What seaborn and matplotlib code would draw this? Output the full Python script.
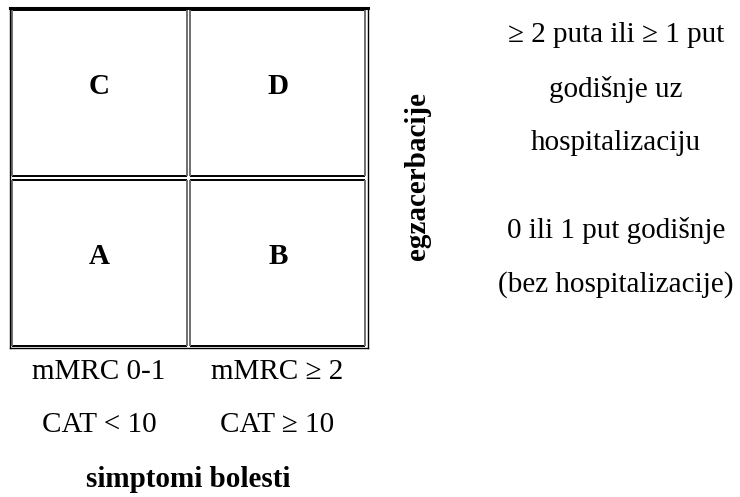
import numpy as np
import pandas as pd
import matplotlib
matplotlib.use("Agg")
import matplotlib.pyplot as plt
from matplotlib.colors import ListedColormap
import seaborn as sns

# ---- content ----
cell_letters = [["C", "D"], ["A", "B"]]
col_label_line1 = ["mMRC 0-1", "mMRC \u2265 2"]
col_label_line2 = ["CAT < 10", "CAT \u2265 10"]
x_title = "simptomi bolesti"
y_title = "egzacerbacije"
upper_row_text = ["\u2265 2 puta ili \u2265 1 put", "godi\u0161nje uz", "hospitalizaciju"]
lower_row_text = ["0 ili 1 put godi\u0161nje", "(bez hospitalizacije)"]

sns.set_style("white")
plt.rcParams["font.family"] = ["Liberation Serif", "DejaVu Serif"]
plt.rcParams["text.color"] = "black"

W, H = 740, 497
fig = plt.figure(figsize=(W / 100, H / 100), dpi=100)
fig.patch.set_facecolor("white")


def fx(x):
    return x / W


def fy(y):
    return 1 - y / H


# table axes in pixel box
L, T, R, B = 9.5, 8.0, 367.5, 348.0
ax = fig.add_axes([fx(L), fy(B), (R - L) / W, (B - T) / H])

grid = pd.DataFrame(np.zeros((2, 2)))
sns.heatmap(grid, ax=ax, cmap=ListedColormap(["white"]), cbar=False,
            annot=np.array(cell_letters), fmt="",
            annot_kws=dict(fontsize=21, fontweight="bold", color="black",
                           family=["Liberation Serif", "DejaVu Serif"]),
            linewidths=0, square=False)
for t in ax.texts:
    x0, y0 = t.get_position()
    t.set_position((x0, y0 - 0.04))

ax.set_xticks([])
ax.set_yticks([])
ax.set_xlim(0, 2)
ax.set_ylim(2, 0)
for s in ax.spines.values():
    s.set_visible(True)
    s.set_color("black")
    s.set_linewidth(1.0)
ax.spines["top"].set_linewidth(2.2)

# inner cell borders (double-line look)
d_out, d_in = 0.014, 0.0095
dy_out, dy_in = 0.012, 0.0105
for i in range(2):
    for j in range(2):
        x_a = j + (d_out if j == 0 else d_in)
        x_b = j + 1 - (d_in if j == 0 else d_out)
        y_a = i + (dy_out if i == 0 else dy_in)
        y_b = i + 1 - (dy_in if i == 0 else dy_out)
        ax.hlines([y_a, y_b], x_a, x_b, colors="black", linewidth=1.4)
        ax.vlines([x_a, x_b], y_a, y_b, colors="#6f6f6f", linewidth=1.4)

fs = 21
txt = dict(color="black")
# column labels under table
col_x = [99, 277]
for cx, t1, t2 in zip(col_x, col_label_line1, col_label_line2):
    fig.text(fx(cx), fy(379), t1, ha="center", va="baseline", fontsize=fs, **txt)
    fig.text(fx(cx), fy(432), t2, ha="center", va="baseline", fontsize=fs, **txt)
fig.text(fx(188), fy(487), x_title, ha="center", va="baseline",
         fontsize=fs, fontweight="bold", **txt)

# vertical axis title
fig.text(fx(417), fy(176), y_title, ha="center", va="center", rotation=90,
         fontsize=fs, fontweight="bold", **txt)

# right-side row descriptions
for yb, t in zip([42, 97, 150], upper_row_text):
    fig.text(fx(616), fy(yb), t, ha="center", va="baseline", fontsize=fs, **txt)
for yb, t in zip([238, 292], lower_row_text):
    fig.text(fx(616), fy(yb), t, ha="center", va="baseline", fontsize=fs, **txt)

fig.savefig("out.png", dpi=100, facecolor="white")
